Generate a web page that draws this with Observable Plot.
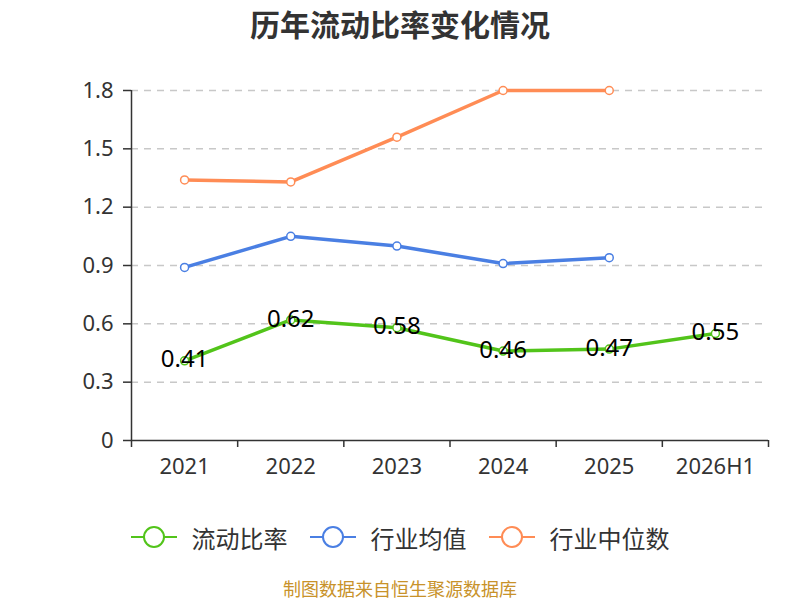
<!DOCTYPE html>
<html>
<head>
<meta charset="utf-8">
<script src="https://cdn.jsdelivr.net/npm/d3@7"></script>
<script src="https://cdn.jsdelivr.net/npm/@observablehq/plot@0.6"></script>
<style>
  body { margin: 0; background: #fff; font-family: "Noto Sans", "Noto Sans CJK SC", sans-serif; }
  #wrap { width: 800px; height: 600px; position: relative; overflow: hidden; }
  #title { height: 60px; text-align: center; font-family: "Noto Sans CJK SC", sans-serif; font-weight: bold; font-size: 30px; color: #333; line-height: 46px; }
  #legend { position: absolute; top: 522px; left: 0; width: 800px; display: flex; justify-content: center; gap: 22px; font-family: "Noto Sans CJK SC", sans-serif; font-size: 24px; color: #333; }
  .item { display: flex; align-items: center; gap: 15px; height: 30px; }
  #caption { position: absolute; top: 579px; left: 0; width: 800px; text-align: center; font-family: "Noto Sans CJK SC", sans-serif; font-size: 18px; line-height: 18px; color: #c8922a; }
</style>
</head>
<body>
<div id="wrap">
  <div id="title">历年流动比率变化情况</div>
  <div id="chart"></div>
  <div id="legend"></div>
  <div id="caption">制图数据来自恒生聚源数据库</div>
</div>
<script>
const years = ["2021", "2022", "2023", "2024", "2025", "2026H1"];
const currentRatio = [0.41, 0.62, 0.58, 0.46, 0.47, 0.55];
const industryAvg = [0.89, 1.05, 1.00, 0.91, 0.94, null];
const industryMedian = [1.34, 1.33, 1.56, 1.80, 1.80, null];
const yTicks = [0, 0.3, 0.6, 0.9, 1.2, 1.5, 1.8];
const seriesNames = ["流动比率", "行业均值", "行业中位数"];
const seriesColors = ["#52c41a", "#4a7fe3", "#ff8c55"];

const idx = years.map((_, i) => i);
const bounds = [-0.5, 0.5, 1.5, 2.5, 3.5, 4.5, 5.5];
const rows = (vals, s) => idx.filter(i => vals[i] != null).map(i => ({i, v: vals[i], s}));
const dRatio = rows(currentRatio, seriesNames[0]);
const dAvg = rows(industryAvg, seriesNames[1]);
const dMed = rows(industryMedian, seriesNames[2]);

const font = "'Noto Sans', 'Noto Sans CJK SC', sans-serif";

const chart = Plot.plot({
  width: 800,
  height: 420,
  marginTop: 30,
  marginBottom: 40,
  marginLeft: 131,
  marginRight: 32,
  style: {fontFamily: font, fontSize: "22px", color: "#333", background: "#fff", overflow: "visible"},
  x: {type: "linear", domain: [-0.5, 5.5]},
  y: {domain: [0, 1.8]},
  marks: [
    Plot.ruleY(yTicks.filter(d => d > 0), {stroke: "#c8c8c8", strokeWidth: 1.5, strokeDasharray: "7,6"}),
    Plot.axisY({ticks: yTicks, tickSize: 8, tickPadding: 10, label: null, stroke: "#333", strokeWidth: 1.5, fontSize: 22, tickFormat: d => d === 0 ? "0" : d3.format(".1f")(d)}),
    Plot.ruleX([-0.5], {stroke: "#333", strokeWidth: 1.5}),
    Plot.ruleY([0], {stroke: "#333", strokeWidth: 1.5}),
    Plot.axisX({ticks: bounds, tickSize: 7, tickFormat: () => "", stroke: "#333", strokeWidth: 1.5, label: null}),
    Plot.axisX({ticks: idx, tickSize: 0, tickPadding: 18, tickFormat: i => years[i], fontSize: 22, label: null}),
    Plot.line(dMed, {x: "i", y: "v", stroke: seriesColors[2], strokeWidth: 3.5}),
    Plot.line(dAvg, {x: "i", y: "v", stroke: seriesColors[1], strokeWidth: 3.5}),
    Plot.line(dRatio, {x: "i", y: "v", stroke: seriesColors[0], strokeWidth: 3.5}),
    Plot.dot(dMed, {x: "i", y: "v", r: 4, fill: "#fff", stroke: seriesColors[2], strokeWidth: 1.5}),
    Plot.dot(dAvg, {x: "i", y: "v", r: 4, fill: "#fff", stroke: seriesColors[1], strokeWidth: 1.5}),
    Plot.dot(dRatio, {x: "i", y: "v", r: 4, fill: "#fff", stroke: seriesColors[0], strokeWidth: 1.5}),
    Plot.text(dRatio, {x: "i", y: "v", text: d => d3.format(".2f")(d.v), fill: "#000", fontSize: 24, dy: -1})
  ]
});
document.getElementById("chart").appendChild(chart);

const legend = document.getElementById("legend");
seriesNames.forEach((name, k) => {
  const item = document.createElement("div");
  item.className = "item";
  item.innerHTML = `<svg width="46" height="26"><line x1="0" y1="13" x2="46" y2="13" stroke="${seriesColors[k]}" stroke-width="2"/><circle cx="23" cy="13" r="10" fill="#fff" stroke="${seriesColors[k]}" stroke-width="2"/></svg><span>${name}</span>`;
  legend.appendChild(item);
});
</script>
</body>
</html>
